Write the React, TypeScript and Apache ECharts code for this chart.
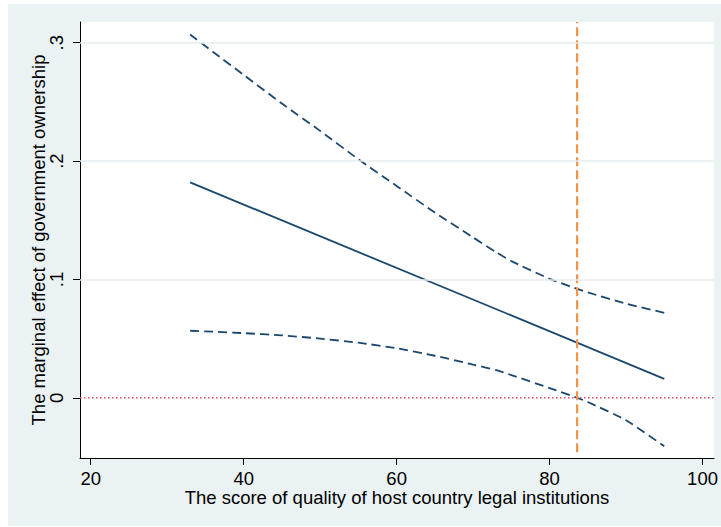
import React, { useEffect, useRef } from "react";
import * as echarts from "echarts";

// x values at which the confidence bands were read
const xCI = [33, 36, 40, 45, 50, 55, 60, 65, 70, 73, 75, 80, 83.6, 85, 90, 95];
const upperCI = [0.307, 0.2922, 0.2728, 0.2486, 0.2255, 0.2015, 0.179, 0.1565, 0.1355, 0.123, 0.1155, 0.1005, 0.092, 0.089, 0.0795, 0.0718];
const lowerCI = [0.0566, 0.0558, 0.0546, 0.0527, 0.05, 0.0465, 0.0418, 0.0355, 0.028, 0.0234, 0.0192, 0.0082, 0.0, -0.0036, -0.019, -0.041];
// marginal effect (linear)
const xEffect = [33, 95];
const effect = [0.182, 0.016];
// threshold
const thresholdX = 83.6;
const thresholdY = [-0.046, 0.3175];
// axes
const xTicks = [20, 40, 60, 80, 100];
const yTicks = [0, 0.1, 0.2, 0.3];
const yGridLines = [0.1, 0.2, 0.3];
const xMin = 18.6;
const xMax = 101.5;
const yMin = -0.0509;
const yMax = 0.3175;

const xTitle = "The score of quality of host country legal institutions";
const yTitle = "The marginal effect of government ownership";

const FONT = "Liberation Sans, Arial, Helvetica, sans-serif";

export default function App() {
  const ref = useRef<HTMLDivElement>(null);
  useEffect(() => {
    if (!ref.current) return;
    const chart = echarts.init(ref.current, undefined, { renderer: "svg" });
    const navy = "#1A476F";
    chart.setOption({
      animation: false,
      backgroundColor: "#EAF2F3",
      textStyle: { fontFamily: FONT },
      grid: {
        left: 72,
        top: 18,
        right: 7,
        bottom: 68,
        show: true,
        backgroundColor: "#FFFFFF",
        borderWidth: 0,
      },
      xAxis: {
        type: "value",
        min: xMin,
        max: xMax,
        name: xTitle,
        nameLocation: "middle",
        nameGap: 30,
        nameMoveOverlap: false,
        nameTextStyle: { fontSize: 18.5, color: "#000", fontFamily: FONT },
        axisLine: { show: true, onZero: false, lineStyle: { color: "#000", width: 1 } },
        axisTick: { show: true, length: 7, lineStyle: { color: "#000" }, customValues: xTicks },
        axisLabel: { customValues: xTicks, fontSize: 18.5, color: "#000", margin: 11, fontFamily: FONT },
        splitLine: { show: false },
      },
      yAxis: {
        type: "value",
        min: yMin,
        max: yMax,
        name: yTitle,
        nameLocation: "middle",
        nameGap: 32,
        nameMoveOverlap: false,
        nameRotate: 90,
        nameTextStyle: { fontSize: 18.5, color: "#000", fontFamily: FONT },
        axisLine: { show: true, onZero: false, lineStyle: { color: "#000", width: 1 } },
        axisTick: { show: true, length: 7, lineStyle: { color: "#000" }, customValues: yTicks },
        axisLabel: {
          customValues: yTicks,
          rotate: 90,
          fontSize: 18.5,
          color: "#000",
          margin: 14,
          fontFamily: FONT,
          formatter: (v: number) => {
            if (Math.abs(v) < 1e-9) return "0";
            return String(Math.round(v * 10) / 10).replace(/^0\./, ".");
          },
        },
        splitLine: { show: false },
      },
      series: [
        {
          type: "line",
          data: [],
          silent: true,
          z: 1,
          markLine: {
            silent: true,
            symbol: "none",
            label: { show: false },
            lineStyle: { color: "#E6EEF0", width: 1.5, type: "solid" },
            data: yGridLines.map((y) => ({ yAxis: y })),
          },
        },
        {
          type: "line",
          data: [[xMin, 0], [xMax, 0]],
          showSymbol: false,
          z: 2,
          lineStyle: { color: "#E0506C", width: 1.5, type: [1.5, 2.5] },
        },
        {
          type: "line",
          data: xCI.map((x, i) => [x, upperCI[i]]),
          showSymbol: false,
          smooth: 0.2,
          z: 3,
          lineStyle: { color: navy, width: 1.8, type: [9, 5] },
        },
        {
          type: "line",
          data: xCI.map((x, i) => [x, lowerCI[i]]),
          showSymbol: false,
          smooth: 0.2,
          z: 3,
          lineStyle: { color: navy, width: 1.8, type: [9, 5] },
        },
        {
          type: "line",
          data: xEffect.map((x, i) => [x, effect[i]]),
          showSymbol: false,
          z: 3,
          lineStyle: { color: navy, width: 1.8, type: "solid" },
        },
        {
          type: "line",
          data: thresholdY.map((y) => [thresholdX, y]),
          showSymbol: false,
          z: 4,
          lineStyle: { color: "#F4934A", width: 2.2, type: [9, 4] },
        },
      ],
    });
    return () => chart.dispose();
  }, []);
  return (
    <div style={{ position: "absolute", left: 0, top: 0, width: 721, height: 527, background: "#FFFFFF" }}>
      <div ref={ref} style={{ position: "absolute", left: 8, top: 4, width: 713, height: 522 }} />
    </div>
  );
}
